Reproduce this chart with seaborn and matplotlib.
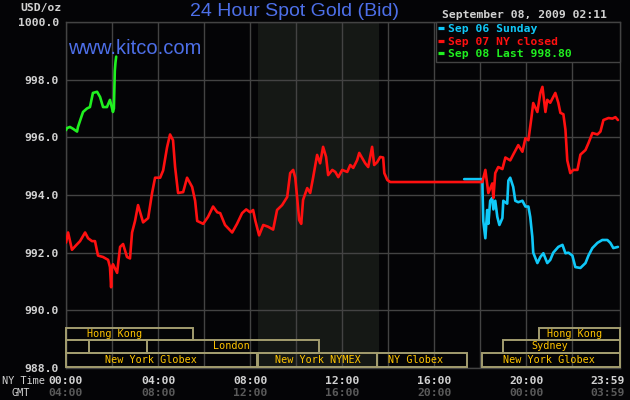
import pandas as pd
import numpy as np
import matplotlib
matplotlib.use('Agg')
import matplotlib.pyplot as plt
from matplotlib.patches import Rectangle
import seaborn as sns

# spot gold bid, hours NY time
sep06_hours = [17.30, 18.09, 18.10, 18.13, 18.22, 18.30, 18.35, 18.43, 18.52, 18.57, 18.65, 18.74,
               18.83, 18.96, 19.00, 19.17, 19.22, 19.30, 19.43, 19.52, 19.65, 19.83, 19.96, 20.09,
               20.17, 20.26, 20.30, 20.48, 20.61, 20.74, 20.91, 21.04, 21.17, 21.39, 21.57, 21.70,
               21.83, 22.00, 22.13, 22.35, 22.57, 22.70, 22.87, 23.09, 23.30, 23.52, 23.65, 23.78, 23.98]
sep06_price = [994.55, 994.55, 994.07, 993.1, 992.5, 993.48, 993.0, 993.8, 993.9, 993.5, 993.8, 993.24,
               992.96, 993.2, 993.8, 993.7, 994.5, 994.6, 994.28, 993.8, 993.75, 993.8, 993.6, 993.6,
               993.24, 992.55, 992.0, 991.64, 991.85, 991.98, 991.64, 991.75, 992.0, 992.2, 992.27, 991.98,
               992.0, 991.9, 991.5, 991.47, 991.64, 991.9, 992.16, 992.34, 992.44, 992.44, 992.34, 992.16, 992.2]

sep07_hours = [0.0, 0.09, 0.26, 0.43, 0.61, 0.83, 0.96, 1.13, 1.26, 1.39, 1.61, 1.83, 1.91, 1.96, 2.0,
               2.04, 2.22, 2.35, 2.48, 2.65, 2.78, 2.87, 3.0, 3.13, 3.22, 3.35, 3.57, 3.74, 3.87, 4.09,
               4.22, 4.39, 4.52, 4.65, 4.74, 4.87, 5.09, 5.26, 5.48, 5.61, 5.70, 5.96, 6.17, 6.39, 6.57,
               6.70, 6.91, 7.22, 7.43, 7.65, 7.83, 8.0, 8.13, 8.22, 8.39, 8.57, 8.78, 9.0, 9.17, 9.39,
               9.61, 9.74, 9.87, 9.96, 10.04, 10.13, 10.22, 10.30, 10.48, 10.61, 10.74, 10.91, 11.04,
               11.17, 11.30, 11.39, 11.57, 11.70, 11.83, 12.0, 12.22, 12.35, 12.48, 12.65, 12.74, 12.87,
               13.0, 13.13, 13.30, 13.39, 13.52, 13.65, 13.78, 13.83, 13.96, 14.09, 18.09, 18.22, 18.35,
               18.52, 18.57, 18.65, 18.78, 18.96, 19.09, 19.30, 19.43, 19.65, 19.83, 19.96, 20.09, 20.22,
               20.30, 20.48, 20.61, 20.70, 20.83, 20.91, 21.04, 21.26, 21.39, 21.48, 21.61, 21.70, 21.78,
               21.91, 22.04, 22.22, 22.35, 22.57, 22.70, 22.87, 23.09, 23.22, 23.35, 23.57, 23.74, 23.87, 23.98]
sep07_price = [992.35, 992.7, 992.1, 992.25, 992.4, 992.7, 992.5, 992.4, 992.4, 991.9, 991.85, 991.75, 991.5, 990.8, 991.5,
               991.6, 991.3, 992.2, 992.3, 991.85, 991.8, 992.7, 993.1, 993.65, 993.4, 993.05, 993.2, 994.07, 994.6, 994.6,
               994.85, 995.65, 996.1, 995.9, 994.97, 994.07, 994.1, 994.6, 994.28, 993.8, 993.1, 993.0, 993.24, 993.6, 993.4,
               993.37, 992.96, 992.7, 993.0, 993.37, 993.5, 993.4, 993.48, 993.13, 992.6, 992.96, 992.9, 992.8, 993.48, 993.65,
               993.93, 994.76, 994.87, 994.6, 993.93, 993.13, 993.0, 993.83, 994.24, 994.07, 994.62, 995.39, 995.1,
               995.67, 995.32, 994.69, 994.87, 994.8, 994.62, 994.87, 994.8, 995.04, 994.94, 995.21, 995.46, 995.28,
               995.1, 994.97, 995.67, 995.04, 995.14, 995.32, 995.3, 994.76, 994.52, 994.45, 994.45, 994.87, 994.07,
               994.4, 993.9, 994.76, 994.97, 994.9, 995.3, 995.2, 995.4, 995.73, 995.5, 995.97, 995.9, 996.67,
               997.19, 996.88, 997.54, 997.75, 996.88, 997.3, 997.2, 997.54, 997.2, 996.85, 996.8, 996.26, 995.2,
               994.76, 994.87, 994.87, 995.4, 995.56, 995.8, 996.15, 996.1, 996.2, 996.6, 996.67, 996.65, 996.7, 996.6]

sep08_hours = [0.0, 0.04, 0.17, 0.30, 0.48, 0.52, 0.65, 0.74, 0.91, 1.04, 1.17, 1.35, 1.48, 1.61,
               1.78, 1.91, 2.04, 2.08, 2.12, 2.15, 2.18]
sep08_price = [996.25, 996.32, 996.36, 996.3, 996.2, 996.36, 996.67, 996.88, 997.0, 997.05, 997.54, 997.58,
               997.4, 997.05, 997.05, 997.3, 996.88, 997.0, 998.3, 998.6, 998.8]

day_labels = ['Sep 06 Sunday', 'Sep 07 NY closed', 'Sep 08 Last 998.80']
day_colors = ['#10c8f8', '#ff1010', '#20f020']

y_ticks = [988, 990, 992, 994, 996, 998, 1000]
ny_ticks = [0, 4, 8, 12, 16, 20, 23.98]
ny_labels = ['00:00', '04:00', '08:00', '12:00', '16:00', '20:00', '23:59']
gmt_labels = ['04:00', '08:00', '12:00', '16:00', '20:00', '00:00', '03:59']

# market sessions (row 0 = top)
session_names = ['Hong Kong', '', '', 'London', 'New York Globex', 'New York NYMEX', 'NY Globex',
                 'New York Globex', 'Sydney', 'Hong Kong']
session_row = [0, 1, 1, 1, 2, 2, 2, 2, 1, 0]
session_start = [0, 0, 1.0, 3.5, 0, 8.33, 13.52, 18.09, 19.0, 20.55]
session_end = [5.52, 1.0, 3.5, 11.0, 8.3, 13.52, 17.43, 24.07, 24.07, 24.07]
session_label_at = [2.13, 0, 0, 7.17, 3.67, 10.96, 15.2, 21.0, 21.0, 22.1]
nymex_open, nymex_close = 8.33, 13.6

df = pd.concat([
    pd.DataFrame({'hour': sep06_hours, 'price': sep06_price, 'day': day_labels[0]}),
    pd.DataFrame({'hour': sep07_hours, 'price': sep07_price, 'day': day_labels[1]}),
    pd.DataFrame({'hour': sep08_hours, 'price': sep08_price, 'day': day_labels[2]}),
], ignore_index=True)

bg = '#040406'
grid_c = '#434343'
sns.set_theme(style='dark', rc={'figure.facecolor': bg, 'axes.facecolor': bg})
plt.rcParams['font.family'] = ['DejaVu Sans Mono']

fig = plt.figure(figsize=(6.3, 4.0), dpi=100)
ax = fig.add_axes([66 / 630, 32 / 400, 554 / 630, 346 / 400])

ax.axvspan(nymex_open, nymex_close, color='#151815', zorder=0, lw=0)

sns.lineplot(data=df, x='hour', y='price', hue='day', hue_order=day_labels,
             palette=dict(zip(day_labels, day_colors)), estimator=None, sort=False,
             legend=False, linewidth=1.9, ax=ax, zorder=3)

ax.set_xlim(0, 24.07)
ax.set_ylim(988, 1000)
ax.set_xticks(np.arange(0, 24, 2))
ax.set_yticks(y_ticks)
ax.set_yticklabels([f'{v:.1f}' for v in y_ticks], color='#d2d2d2', fontsize=8.2, fontweight='bold')
ax.set_xticklabels([])
ax.tick_params(length=0, pad=5)
ax.grid(True, color=grid_c, lw=1.0)
ax.set_axisbelow(True)
for s in ax.spines.values():
    s.set_color(grid_c)
    s.set_linewidth(1.0)
ax.set_xlabel('')
ax.set_ylabel('')

# x labels, NY time and GMT; the last pair is kept inside the figure
xt = ax.get_xaxis_transform()
for i, (t, a, b) in enumerate(zip(ny_ticks, ny_labels, gmt_labels)):
    ha = 'right' if i == len(ny_ticks) - 1 else 'center'
    xpos = 24.07 + 5 / 23.0 if ha == 'right' else t
    ax.text(xpos, -13 / 346, a, transform=xt, ha=ha, va='center', color='#d2d2d2',
            fontsize=8.2, fontweight='bold')
    ax.text(xpos, -25 / 346, b, transform=xt, ha=ha, va='center', color='#5a5a5a',
            fontsize=8.2, fontweight='bold')
fig.text(45 / 630, 1 - 381 / 400, 'NY Time', ha='right', va='center', color='#d2d2d2', fontsize=7.4)
fig.text(21 / 630, 1 - 393 / 400, 'GMT', ha='center', va='center', color='#d2d2d2', fontsize=7.4)

# market session boxes
row_bottom = [0.0809, 0.0434, 0.003]
row_height = [0.0347, 0.0375, 0.0404]
for name, r, s, e, lab in zip(session_names, session_row, session_start, session_end, session_label_at):
    ax.add_patch(Rectangle((s, row_bottom[r]), e - s, row_height[r], transform=xt, fill=False,
                           edgecolor='#a39d6f', lw=1.4, zorder=4, clip_on=False))
    if name:
        ax.text(lab, row_bottom[r] + row_height[r] / 2, name, transform=xt, ha='center',
                va='center', color='#ffc400', fontsize=7.3, zorder=5)

# legend box
leg = ax.legend(handles=ax.get_lines()[:3], labels=day_labels, loc='upper left',
                bbox_to_anchor=(0.668, 0, 0.332, 1.0), mode='expand', borderaxespad=0,
                frameon=True, fancybox=False, framealpha=1, facecolor=bg, edgecolor=grid_c,
                handlelength=0.5, handletextpad=0.35, labelspacing=0.22, borderpad=0.2,
                labelcolor='linecolor', prop={'family': 'DejaVu Sans Mono', 'weight': 'bold', 'size': 8.2})
leg.get_frame().set_linewidth(1.0)
leg.set_zorder(6)
for h in leg.legend_handles:
    h.set_linewidth(2.3)
    h.set_solid_capstyle('butt')

ax.text(2 / 554, 0.922, 'www.kitco.com', transform=ax.transAxes, ha='left', va='center',
        color='#4d6fe8', fontsize=14.5, family='Liberation Sans', zorder=2)

fig.text(294.5 / 630, 0.970, '24 Hour Spot Gold (Bid)', ha='center', va='center',
         color='#4d6fe8', fontsize=14, family='Liberation Sans')
fig.text(607 / 630, 1 - 15 / 400, 'September 08, 2009 02:11', ha='right', va='center',
         color='#d2d2d2', fontsize=8.2, fontweight='bold')
fig.text(62 / 630, 1 - 8 / 400, 'USD/oz', ha='right', va='center', color='#d2d2d2',
         fontsize=8.2, fontweight='bold')

fig.savefig('out.png', dpi=100, facecolor=bg)
